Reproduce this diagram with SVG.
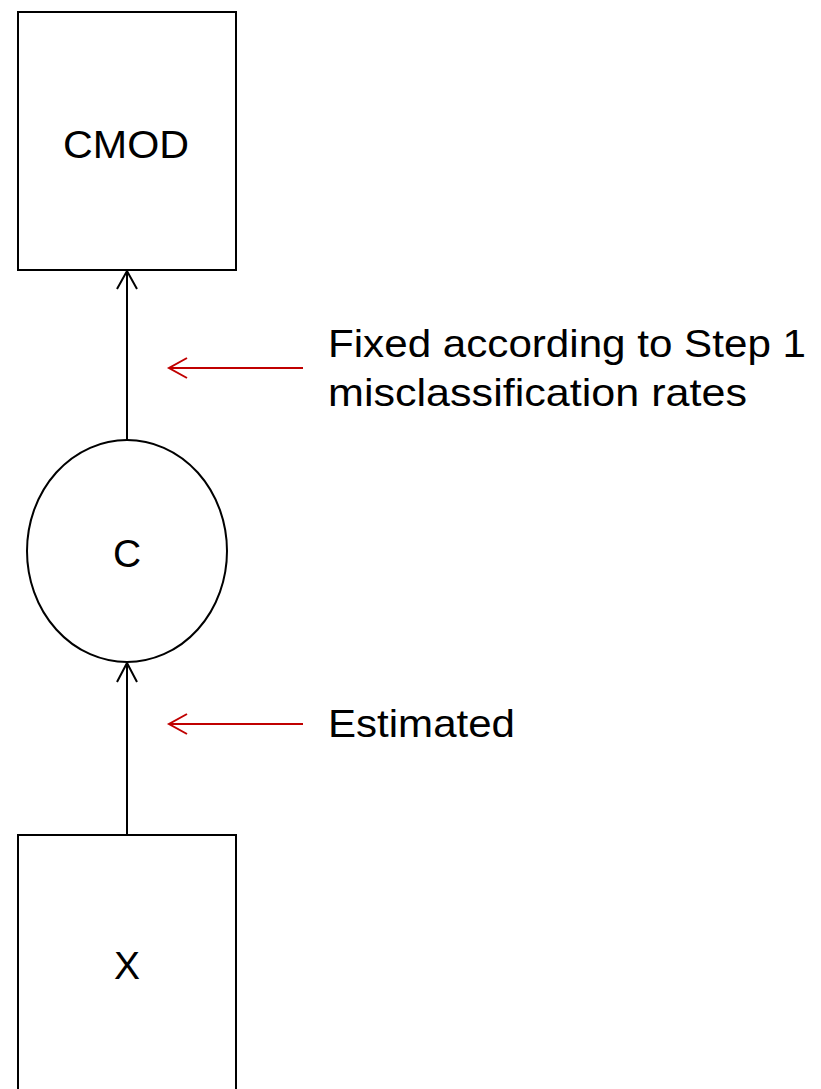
<svg xmlns="http://www.w3.org/2000/svg" width="821" height="1089" viewBox="0 0 821 1089">
<style>
.node{fill:#fff;stroke:#000;stroke-width:2}
.lbl{font-family:"Liberation Sans",Arial,sans-serif;font-size:39px;fill:#000}
.edge{fill:none;stroke:#000;stroke-width:2}
.note{fill:none;stroke:#c00000;stroke-width:2}
</style>
<rect width="821" height="1089" fill="#fff"/>
<g id="connectors">
<line class="edge" x1="127" y1="440" x2="127" y2="271"/>
<polyline class="edge" points="117,289 127,271 137,289"/>
<line class="edge" x1="127" y1="835" x2="127" y2="663"/>
<polyline class="edge" points="117,682 127,663 137,682"/>
<line class="note" x1="303" y1="368" x2="169" y2="368"/>
<polyline class="note" points="187,358 169,368 187,378"/>
<line class="note" x1="303" y1="724" x2="169" y2="724"/>
<polyline class="note" points="187,714 169,724 187,734"/>
</g>
<g id="node-cmod">
<rect class="node" x="18" y="12" width="218" height="258"/>
<text class="lbl" x="63" y="158" textLength="126" lengthAdjust="spacingAndGlyphs">CMOD</text>
</g>
<g id="node-c">
<ellipse class="node" cx="127" cy="551" rx="100" ry="111"/>
<text class="lbl" x="127" y="567" text-anchor="middle">C</text>
</g>
<g id="node-x">
<rect class="node" x="18" y="835" width="218" height="270"/>
<text class="lbl" x="127" y="979" text-anchor="middle">X</text>
</g>
<g id="labels">
<text class="lbl" x="328" y="357" textLength="478" lengthAdjust="spacingAndGlyphs">Fixed according to Step 1</text>
<text class="lbl" x="328" y="406" textLength="419" lengthAdjust="spacingAndGlyphs">misclassification rates</text>
<text class="lbl" x="328" y="737" textLength="187" lengthAdjust="spacingAndGlyphs">Estimated</text>
</g>
</svg>
